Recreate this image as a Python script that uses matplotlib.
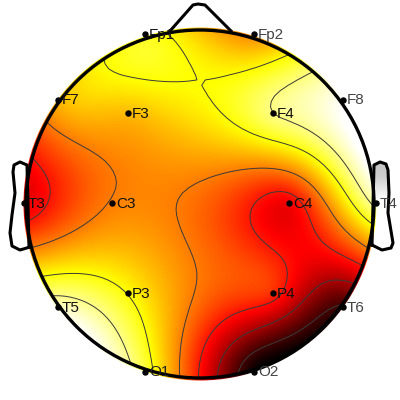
"""
Scalp map - biharmonic spline over the electrode values
"""

import numpy as np
import matplotlib
matplotlib.use('Agg')
import matplotlib.pyplot as plt
from matplotlib.patches import Circle, Polygon

plt.rcParams['font.family'] = ['Liberation Sans', 'DejaVu Sans']

# electrode names, pixel positions in the picture and values (0 = black, 1 = white)
channels = ['Fp1', 'Fp2', 'F7', 'F3', 'F4', 'F8', 'T3', 'C3', 'C4', 'T4',
            'T5', 'P3', 'P4', 'T6', 'O1', 'O2']
chan_x = [145, 254, 58, 128, 273, 343, 24, 112, 289, 376, 58, 128, 273, 343, 145, 254]
chan_y = [34, 34, 100, 113, 113, 100, 203, 203, 203, 203, 307, 293, 293, 307, 372, 372]
values = [0.775, 0.58, 0.64, 0.64, 0.87, 0.99, 0.33, 0.555, 0.35, 0.90,
          0.93, 0.74, 0.44, 0.09, 0.80, 0.01]
label_colors = ['#111111', '#444444', '#111111', '#111111', '#111111', '#444444', '#111111', '#111111',
                '#111111', '#444444', '#111111', '#111111', '#111111', '#444444', '#222222', '#444444']

contour_levels = [0.10, 0.25, 0.40, 0.55, 0.745, 0.87]

# head outline
nose_x = [170, 193, 198, 205, 231]
nose_y = [31, 5, 4, 5, 31]
ear_l_x = [29, 27, 20, 14, 13, 15, 12, 10, 12, 20, 30]
ear_l_y = [247, 165, 162, 165, 172, 193, 215, 233, 246, 250, 247]
ear_r_x = [372, 374, 380, 386, 388, 389, 388, 393, 391, 382, 372]
ear_r_y = [245, 165, 162, 164, 170, 193, 213, 243, 248, 250, 245]
ear_shade = [0.78, 0.8, 0.87, 0.95, 1.0]

cx, cy, head_r = 200, 204, 174
grid_n = 67


def biharmonic(xi, yi, x, y, z):
    # griddata v4 style spline
    x, y, z = np.asarray(x, float), np.asarray(y, float), np.asarray(z, float)
    d = np.hypot(x[:, None] - x[None, :], y[:, None] - y[None, :]) / head_r
    np.fill_diagonal(d, 1)
    g = d ** 2 * (np.log(d) - 1)
    np.fill_diagonal(g, 0)
    w = np.linalg.solve(g, z)
    dg = np.hypot(xi[..., None] - x, yi[..., None] - y) / head_r
    dg = np.maximum(dg, 1e-9)
    return (dg ** 2 * (np.log(dg) - 1)) @ w


gx = np.linspace(cx - 178, cx + 178, grid_n)
gy = np.linspace(cy - 178, cy + 178, grid_n)
Xi, Yi = np.meshgrid(gx, gy)
Zi = biharmonic(Xi, Yi, chan_x, chan_y, values)

fig = plt.figure(figsize=(4, 4), dpi=100)
ax = fig.add_axes([0, 0, 1, 1])

clip = Circle((cx, cy), 176.5, transform=ax.transData)
im = ax.imshow(Zi, extent=[gx[0], gx[-1], gy[-1], gy[0]], cmap='hot', vmin=0, vmax=1,
               interpolation='bilinear', aspect='auto', zorder=1)
im.set_clip_path(clip)

# grey shading at the top of the right ear
ear_poly = Polygon(np.column_stack([ear_r_x, ear_r_y]), closed=True, transform=ax.transData)
shade = ax.imshow(np.array(ear_shade)[:, None], extent=[372, 390, 207, 163], cmap='gray', vmin=0, vmax=1,
                  interpolation='bilinear', aspect='auto', zorder=1)
shade.set_clip_path(ear_poly)

ax.set_xlim(0, 400)
ax.set_ylim(400, 0)
ax.axis('off')

cs = ax.contour(Xi, Yi, Zi, levels=contour_levels, colors='#3a3a3a', linewidths=0.7, zorder=2)
cs.set_clip_path(Circle((cx, cy), head_r, transform=ax.transData))

ax.add_patch(Circle((cx, cy), head_r, fill=False, ec='black', lw=2.4, zorder=3))
ax.plot(nose_x, nose_y, color='black', lw=2.2, zorder=3, solid_joinstyle='round')
ax.plot(ear_l_x, ear_l_y, color='black', lw=2.2, zorder=3, solid_joinstyle='round')
ax.plot(ear_r_x, ear_r_y, color='black', lw=2.2, zorder=3, solid_joinstyle='round')

ax.plot(chan_x, chan_y, 'o', color='black', ms=3.6, zorder=4)
for name, x, y, c in zip(channels, chan_x, chan_y, label_colors):
    ax.text(x + 4, y + 0.5, name, fontsize=11, color=c, va='center', ha='left', zorder=5)

fig.savefig('out.png', dpi=100)
